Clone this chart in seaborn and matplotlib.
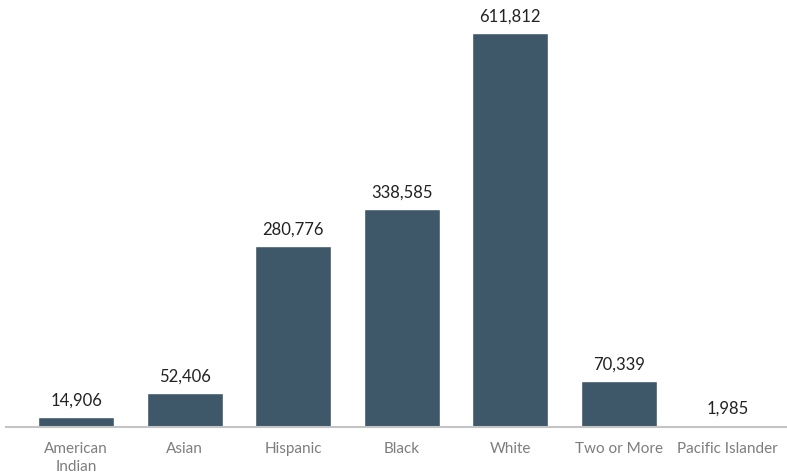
import matplotlib
matplotlib.use("Agg")
import matplotlib.pyplot as plt
import seaborn as sns
import pandas as pd

categories = ["American\nIndian", "Asian", "Hispanic", "Black", "White", "Two or More", "Pacific Islander"]
counts = [14906, 52406, 280776, 338585, 611812, 70339, 1985]

df = pd.DataFrame({"group": categories, "count": counts})

sns.set_theme(style="white")
plt.rcParams["font.family"] = ["Lato", "DejaVu Sans"]

fig = plt.figure(figsize=(7.87, 4.74), dpi=100)
ax = fig.add_axes([6 / 787, 47.5 / 474, 781 / 787, 426.5 / 474])

bar_color = "#3e586a"
sns.barplot(data=df, x="group", y="count", color=bar_color, width=0.70,
            saturation=1, ax=ax)

ax.set_xlim(-0.645, 6.548)
ax.set_ylim(0, 663100)

for i, v in enumerate(counts):
    ax.annotate(f"{v:,}", xy=(i, v), xytext=(0, 6), textcoords="offset points",
                ha="center", va="bottom", fontsize=12, color="#222222")

ax.set_xlabel("")
ax.set_ylabel("")
ax.set_yticks([])
for side in ["top", "right", "left"]:
    ax.spines[side].set_visible(False)
ax.spines["bottom"].set_color("#c4c4c4")
ax.spines["bottom"].set_linewidth(1.5)
ax.tick_params(axis="x", length=0, pad=11, labelsize=11, labelcolor="#7d7d7d")
for lbl in ax.get_xticklabels():
    lbl.set_linespacing(1.35)
ax.set_facecolor("white")
fig.patch.set_facecolor("white")

fig.savefig("out.png", dpi=100)
